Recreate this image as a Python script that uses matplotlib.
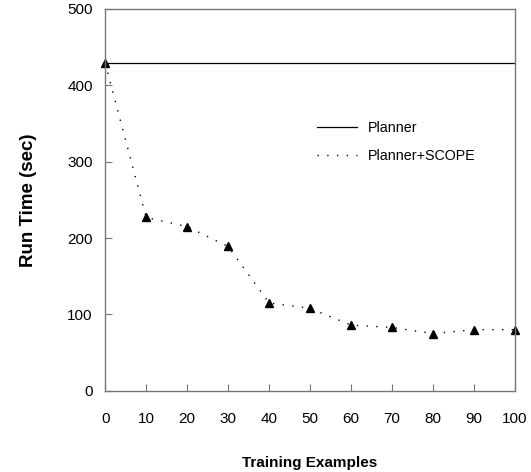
import numpy as np
import matplotlib
matplotlib.use('Agg')
import matplotlib.pyplot as plt

plt.rcParams['font.family'] = ['Liberation Sans', 'DejaVu Sans']

# data
examples = [0, 10, 20, 30, 40, 50, 60, 70, 80, 90, 100]
scope_time = [429, 227, 215, 189, 115, 108, 86, 83, 75, 80, 80]
planner_time = 429
y_ticks = [0, 100, 200, 300, 400, 500]

fig = plt.figure(figsize=(5.31, 4.72), dpi=100)
ax = fig.add_axes([0.198, 0.172, 0.772, 0.809])

ax.axhline(planner_time, color='black', lw=0.9, label='Planner')
ax.plot(examples, scope_time, color='black', lw=1.0, linestyle=(0, (1, 6)),
        marker='^', markersize=6, clip_on=False, label='Planner+SCOPE')

ax.set_xlim(0, 100)
ax.set_ylim(0, 500)
ax.set_xticks(examples)
ax.set_yticks(y_ticks)

for s in ax.spines.values():
    s.set_color('#777777')
    s.set_linewidth(1.0)

ax.tick_params(axis='x', direction='in', length=5, pad=15, labelsize=11,
               color='#777777')
ax.tick_params(axis='y', direction='in', length=5, pad=9, labelsize=11,
               color='#777777')

ax.set_xlabel('Training Examples', fontsize=11, fontweight='bold', labelpad=22)
ax.set_ylabel('Run Time (sec)', fontsize=13.5, fontweight='bold', labelpad=22)

leg = ax.legend(loc='upper left', bbox_to_anchor=(0.485, 0.74), frameon=False,
                fontsize=10.3, handlelength=2.8, handletextpad=0.8,
                labelspacing=1.0)
# dotted legend line without the triangle
leg.legend_handles[1].set_marker('')

fig.savefig('out.png', dpi=100)
